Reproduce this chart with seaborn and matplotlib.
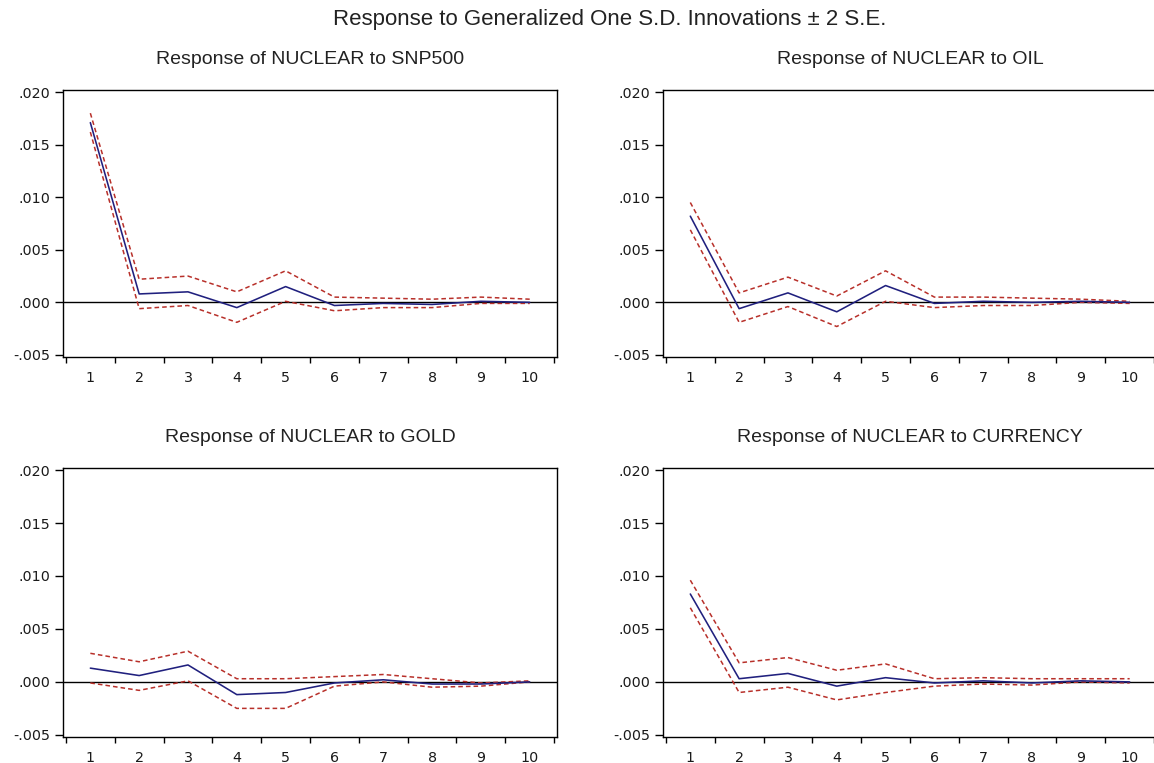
import matplotlib
matplotlib.use("Agg")
import matplotlib.pyplot as plt
from matplotlib.ticker import FuncFormatter, FixedLocator
import numpy as np
import pandas as pd
import seaborn as sns

# Impulse responses of NUCLEAR, periods 1..10, with +/- 2 S.E. bands
periods = list(range(1, 11))

snp_resp = [0.0171, 0.0008, 0.0010, -0.0005, 0.0015, -0.0003, -0.0001, -0.0002, 0.0001, 0.0000]
snp_upper = [0.0180, 0.0022, 0.0025, 0.0010, 0.0030, 0.0005, 0.0004, 0.0003, 0.0005, 0.0003]
snp_lower = [0.0162, -0.0006, -0.0003, -0.0019, 0.0001, -0.0008, -0.0005, -0.0005, -0.0001, -0.0001]

oil_resp = [0.0082, -0.0006, 0.0009, -0.0009, 0.0016, -0.0001, 0.0001, 0.0000, 0.0001, 0.0000]
oil_upper = [0.0095, 0.0009, 0.0024, 0.0006, 0.0030, 0.0005, 0.0005, 0.0004, 0.0003, 0.0001]
oil_lower = [0.0069, -0.0019, -0.0004, -0.0023, 0.0001, -0.0005, -0.0003, -0.0003, 0.0000, -0.0001]

gold_resp = [0.0013, 0.0006, 0.0016, -0.0012, -0.0010, -0.0001, 0.0002, -0.0002, -0.0002, 0.0000]
gold_upper = [0.0027, 0.0019, 0.0029, 0.0003, 0.0003, 0.0005, 0.0007, 0.0003, -0.0001, 0.0001]
gold_lower = [-0.0001, -0.0008, 0.0001, -0.0025, -0.0025, -0.0004, 0.0000, -0.0005, -0.0004, 0.0000]

cur_resp = [0.0083, 0.0003, 0.0008, -0.0004, 0.0004, -0.0001, 0.0001, -0.0001, 0.0001, 0.0000]
cur_upper = [0.0096, 0.0018, 0.0023, 0.0011, 0.0017, 0.0003, 0.0004, 0.0003, 0.0003, 0.0003]
cur_lower = [0.0070, -0.0010, -0.0005, -0.0017, -0.0010, -0.0004, -0.0002, -0.0003, 0.0000, -0.0001]

titles = [
    "Response of NUCLEAR to SNP500",
    "Response of NUCLEAR to OIL",
    "Response of NUCLEAR to GOLD",
    "Response of NUCLEAR to CURRENCY",
]
responses = [snp_resp, oil_resp, gold_resp, cur_resp]
uppers = [snp_upper, oil_upper, gold_upper, cur_upper]
lowers = [snp_lower, oil_lower, gold_lower, cur_lower]

y_ticks = [-0.005, 0.000, 0.005, 0.010, 0.015, 0.020]

sns.set_style("white")
plt.rcParams["font.family"] = ["Liberation Sans", "DejaVu Sans"]

fig = plt.figure(figsize=(11.54, 7.63), dpi=100)

# panel rectangles (left, bottom, width, height) in figure fractions
W = 0.4281
rects = [
    (0.0546, 0.5321, W, 0.3499),
    (0.5745, 0.5321, W, 0.3499),
    (0.0546, 0.0341, W, 0.3526),
    (0.5745, 0.0341, W, 0.3526),
]

line_col = "#20207e"
band_col = "#b8302a"


def fmt_tick(v, pos):
    s = f"{v:.3f}"
    return s.replace("0.", ".", 1)


for rect, title, resp, up, lo in zip(rects, titles, responses, uppers, lowers):
    ax = fig.add_axes(rect)
    df = pd.DataFrame({"period": periods, "resp": resp, "upper": up, "lower": lo})
    ax.axhline(0, color="black", lw=1.0, zorder=1)
    sns.lineplot(data=df, x="period", y="upper", ax=ax, color=band_col, lw=1.1,
                 linestyle=(0, (3, 2)), legend=False, zorder=2)
    sns.lineplot(data=df, x="period", y="lower", ax=ax, color=band_col, lw=1.1,
                 linestyle=(0, (3, 2)), legend=False, zorder=2)
    sns.lineplot(data=df, x="period", y="resp", ax=ax, color=line_col, lw=1.15,
                 legend=False, zorder=3)

    ax.set_xlim(0.44, 10.56)
    ax.set_ylim(-0.0052, 0.0202)
    ax.set_xlabel("")
    ax.set_ylabel("")

    ax.xaxis.set_major_locator(FixedLocator(periods))
    ax.xaxis.set_minor_locator(FixedLocator([p + 0.5 for p in range(0, 11)]))
    ax.set_xticklabels([str(p) for p in periods])
    ax.tick_params(axis="x", which="major", length=0, pad=10, labelsize=10.3)
    ax.tick_params(axis="x", which="minor", length=4, width=1.0, color="black",
                   direction="out", bottom=True)
    ax.yaxis.set_major_locator(FixedLocator(y_ticks))
    ax.yaxis.set_major_formatter(FuncFormatter(fmt_tick))
    ax.tick_params(axis="y", which="major", length=6, width=1.0, color="black",
                   direction="out", left=True, pad=3, labelsize=10.3)
    for lab in ax.get_xticklabels() + ax.get_yticklabels():
        lab.set_fontfamily("DejaVu Sans")
        lab.set_color("#1a1a1a")

    for sp in ax.spines.values():
        sp.set_color("black")
        sp.set_linewidth(1.0)

    ax.set_title(title, fontsize=14, pad=19, color="#222222")

fig.text(0.528, 0.974, "Response to Generalized One S.D. Innovations \u00b1 2 S.E.",
         ha="center", va="center", fontsize=16, color="#222222")

fig.savefig("out.png", dpi=100)
